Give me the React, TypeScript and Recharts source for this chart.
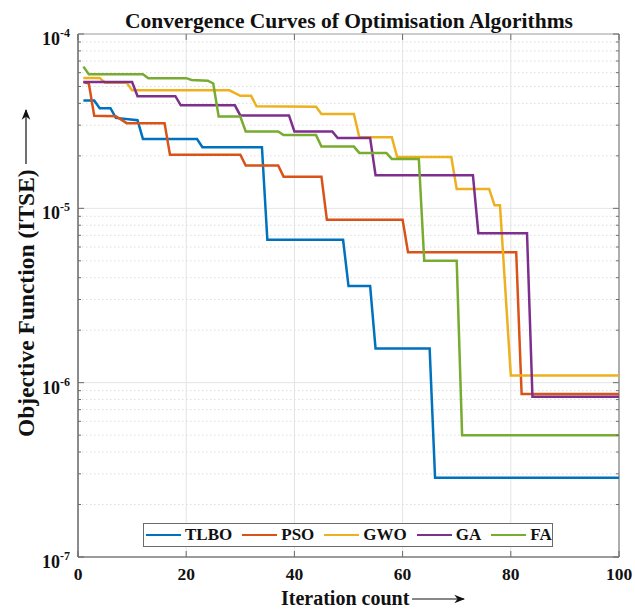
import { LineChart, Line, XAxis, YAxis, CartesianGrid, ReferenceLine, ReferenceArea } from 'recharts'

// plot box in page pixels (chart is pinned to the page corner)
const W = 635
const H = 610
const PLOT = { left: 78, right: 619, top: 34, bottom: 557 }
const FONT = '"Liberation Serif", "Times New Roman", serif'
const AXIS = '#6b6b6b'

const xTicks = [0, 20, 40, 60, 80, 100]
const decades = [1e-7, 1e-6, 1e-5, 1e-4]
const mantissas = [2, 3, 4, 5, 6, 7, 8, 9]
const minorTicks = decades.slice(0, 3).flatMap((d) => mantissas.map((m) => m * d))

// best ITSE so far, [iteration, value] at each corner of the staircase
const tlbo: [number, number][] = [
  [1, 4.15e-5], [3, 4.15e-5], [4, 3.75e-5], [6, 3.75e-5], [7, 3.3e-5], [11, 3.2e-5],
  [12, 2.5e-5], [22, 2.5e-5], [23, 2.24e-5], [34, 2.24e-5], [35, 6.6e-6], [49, 6.6e-6],
  [50, 3.58e-6], [54, 3.58e-6], [55, 1.57e-6], [65, 1.57e-6], [66, 2.85e-7], [100, 2.85e-7],
]
const pso: [number, number][] = [
  [1, 5.3e-5], [2, 5.2e-5], [3, 3.4e-5], [7, 3.38e-5], [9, 3.08e-5], [16, 3.08e-5],
  [17, 2.03e-5], [30, 2.03e-5], [31, 1.76e-5], [37, 1.76e-5], [38, 1.52e-5], [45, 1.52e-5],
  [46, 8.6e-6], [60, 8.6e-6], [61, 5.6e-6], [81, 5.6e-6], [82, 8.6e-7], [100, 8.6e-7],
]
const gwo: [number, number][] = [
  [1, 5.6e-5], [4, 5.6e-5], [5, 5.25e-5], [9, 5.25e-5], [10, 4.75e-5], [28, 4.75e-5],
  [30, 4.42e-5], [32, 4.42e-5], [33, 3.85e-5], [44, 3.82e-5], [45, 3.48e-5], [51, 3.48e-5],
  [52, 2.56e-5], [58, 2.56e-5], [59, 1.97e-5], [69, 1.97e-5], [70, 1.29e-5], [76, 1.29e-5],
  [77, 1.04e-5], [78, 1.04e-5], [80, 1.1e-6], [100, 1.1e-6],
]
const ga: [number, number][] = [
  [1, 5.3e-5], [10, 5.3e-5], [11, 4.4e-5], [18, 4.4e-5], [19, 3.9e-5], [29, 3.9e-5],
  [30, 3.41e-5], [39, 3.41e-5], [40, 2.76e-5], [47, 2.76e-5], [48, 2.53e-5], [54, 2.53e-5],
  [55, 1.55e-5], [73, 1.55e-5], [74, 7.2e-6], [83, 7.2e-6], [84, 8.3e-7], [100, 8.3e-7],
]
const fa: [number, number][] = [
  [1, 6.5e-5], [2, 5.88e-5], [12, 5.88e-5], [13, 5.58e-5], [20, 5.58e-5], [21, 5.45e-5],
  [24, 5.4e-5], [25, 5.2e-5], [26, 3.36e-5], [30, 3.36e-5], [31, 2.76e-5], [37, 2.76e-5],
  [38, 2.63e-5], [44, 2.63e-5], [45, 2.26e-5], [51, 2.26e-5], [52, 2.08e-5], [57, 2.08e-5],
  [58, 1.92e-5], [63, 1.92e-5], [64, 5.0e-6], [70, 5.0e-6], [71, 5.0e-7], [100, 5.0e-7],
]

const series = [
  { name: 'TLBO', color: '#0072BD', points: tlbo },
  { name: 'PSO', color: '#D95319', points: pso },
  { name: 'GWO', color: '#EDB120', points: gwo },
  { name: 'GA', color: '#7E2F8E', points: ga },
  { name: 'FA', color: '#77AC30', points: fa },
]

const isMajor = (v: number) => decades.some((d) => Math.abs(v - d) / d < 1e-6)

function XTick({ x, payload }: any) {
  return (
    <g>
      <line x1={x} x2={x} y1={PLOT.bottom} y2={PLOT.bottom - 6} stroke={AXIS} />
      <line x1={x} x2={x} y1={PLOT.top} y2={PLOT.top + 6} stroke={AXIS} />
      <text x={x} y={580} textAnchor="middle" fontFamily={FONT} fontWeight="bold" fontSize={17.5} fill="#111">
        {payload.value}
      </text>
    </g>
  )
}

function YTick({ y, payload }: any) {
  const v = payload.value
  const major = isMajor(v)
  const len = major ? 6 : 3
  return (
    <g>
      <line x1={PLOT.left} x2={PLOT.left + len} y1={y} y2={y} stroke={AXIS} />
      <line x1={PLOT.right} x2={PLOT.right - len} y1={y} y2={y} stroke={AXIS} />
      {major && (
        <text x={70} y={y + 11} textAnchor="end" fontFamily={FONT} fontWeight="bold" fontSize={18} fill="#111">
          10
          <tspan dy={-8} fontSize={12}>{Math.round(Math.log10(v))}</tspan>
        </text>
      )}
    </g>
  )
}

export default function App() {
  return (
    <div style={{ position: 'absolute', left: 0, top: 0, width: W, height: H, background: '#fff' }}>
      <LineChart width={W} height={H} margin={{ top: PLOT.top, right: W - PLOT.right, bottom: 23, left: 0 }}>
        <CartesianGrid horizontal={false} stroke="#e4e4e4" />
        {minorTicks.map((v) => (
          <ReferenceLine key={`m${v}`} y={v} stroke="#dcdcdc" strokeDasharray="1.5 2.5" />
        ))}
        {decades.map((v) => (
          <ReferenceLine key={`d${v}`} y={v} stroke="#e4e4e4" />
        ))}
        <XAxis
          dataKey="it"
          type="number"
          domain={[0, 100]}
          ticks={xTicks}
          interval={0}
          height={30}
          tickLine={false}
          axisLine={{ stroke: AXIS }}
          tick={<XTick />}
          allowDuplicatedCategory={false}
        />
        <YAxis
          type="number"
          scale="log"
          domain={[1e-7, 1e-4]}
          allowDataOverflow
          ticks={[...decades, ...minorTicks]}
          interval={0}
          width={PLOT.left}
          tickLine={false}
          axisLine={{ stroke: AXIS }}
          tick={<YTick />}
        />
        <ReferenceArea x1={0} x2={100} y1={1e-7} y2={1e-4} fill="none" stroke={AXIS} />
        {series.map((s) => (
          <Line
            key={s.name}
            name={s.name}
            data={s.points.map(([it, v]) => ({ it, v }))}
            dataKey="v"
            type="linear"
            stroke={s.color}
            strokeWidth={2.5}
            dot={false}
            isAnimationActive={false}
          />
        ))}
      </LineChart>

      {/* title and axis captions */}
      <svg width={W} height={H} style={{ position: 'absolute', left: 0, top: 0, pointerEvents: 'none' }}>
        <defs>
          <marker id="head" viewBox="0 0 10 10" refX="9" refY="5" markerWidth="9" markerHeight="9" orient="auto">
            <path d="M0,1 L10,5 L0,9 L3,5 Z" fill="#111" />
          </marker>
        </defs>
        <text x={349} y={28} textAnchor="middle" fontFamily={FONT} fontWeight="bold" fontSize={21.5} fill="#111">
          Convergence Curves of Optimisation Algorithms
        </text>
        <text transform="translate(34, 437) rotate(-90)" fontFamily={FONT} fontWeight="bold" fontSize={23.5} fill="#111">
          Objective Function (ITSE)
        </text>
        <line x1={26} x2={26} y1={164} y2={110} stroke="#111" strokeWidth={1.2} markerEnd="url(#head)" />
        <text x={281} y={605} fontFamily={FONT} fontWeight="bold" fontSize={20} fill="#111">
          Iteration count
        </text>
        <line x1={412} x2={464} y1={599} y2={599} stroke="#111" strokeWidth={1.2} markerEnd="url(#head)" />
      </svg>

      <div
        style={{
          position: 'absolute',
          left: 143,
          top: 523,
          width: 410,
          height: 24,
          boxSizing: 'border-box',
          border: `1px solid ${AXIS}`,
          background: '#fff',
          display: 'flex',
          alignItems: 'center',
          paddingLeft: 2,
          fontFamily: FONT,
          fontWeight: 'bold',
          fontSize: 17,
          color: '#111',
        }}
      >
        {series.map((s) => (
          <div key={s.name} style={{ display: 'flex', alignItems: 'center', marginRight: 10 }}>
            <span style={{ display: 'inline-block', width: 35, height: 2.5, background: s.color, marginRight: 4 }} />
            <span>{s.name}</span>
          </div>
        ))}
      </div>
    </div>
  )
}
